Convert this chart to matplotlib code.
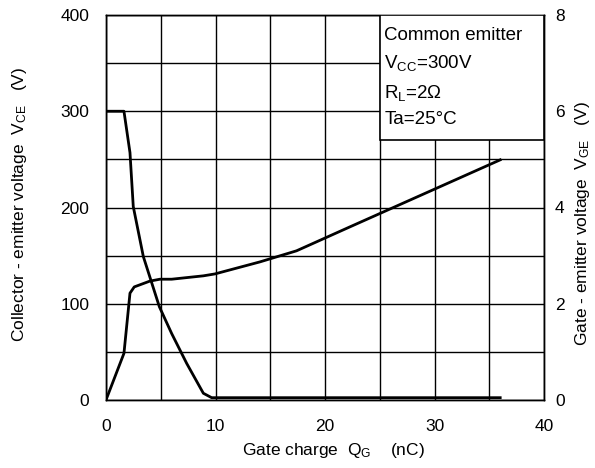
import matplotlib
matplotlib.use("Agg")
import matplotlib.pyplot as plt
from matplotlib.patches import Rectangle

plt.rcParams['font.family'] = ['Liberation Sans', 'DejaVu Sans']
plt.rcParams['mathtext.fontset'] = 'custom'
plt.rcParams['mathtext.rm'] = 'Liberation Sans'
plt.rcParams['mathtext.it'] = 'Liberation Sans:italic'
plt.rcParams['mathtext.default'] = 'rm'

# V_CE vs Q_G (left axis)
qg_vce = [0, 1.64, 2.19, 2.49, 3.41, 4.87, 6.0, 7.37, 8.89, 9.65, 36]
vce = [300, 300, 257, 201, 149, 97, 69, 38, 7, 2.4, 2.4]

# V_GE vs Q_G (right axis)
qg_vge = [0, 1.64, 2.19, 2.58, 4.0, 4.93, 6.0, 8.89, 9.95, 14.06, 17.4, 22.3, 36]
vge = [0, 0.97, 2.22, 2.35, 2.47, 2.51, 2.51, 2.58, 2.62, 2.87, 3.10, 3.6, 4.99]

x_ticks = [0, 10, 20, 30, 40]
vce_ticks = [0, 100, 200, 300, 400]
vge_ticks = [0, 2, 4, 6, 8]
conditions = ["Common emitter", "V$_{CC}$=300V", "R$_{L}$=2\u03a9", "Ta=25\u00b0C"]

fig = plt.figure(figsize=(5.95, 4.68), dpi=100)
ax = fig.add_axes([106/595, 68/468, 438/595, 385/468])
ax2 = ax.twinx()

ax.set_xlim(0, 40)
ax.set_ylim(0, 400)
ax2.set_ylim(0, 8)

ax.set_xticks(x_ticks)
ax.set_xticks([5, 15, 25, 35], minor=True)
ax.set_yticks(vce_ticks)
ax.set_yticks([50, 150, 250, 350], minor=True)
ax2.set_yticks(vge_ticks)

ax.grid(True, which='both', color='black', linewidth=1.0)
ax.set_axisbelow(True)

ax.tick_params(axis='both', which='both', length=0, labelsize=12.5)
ax.tick_params(axis='y', pad=12)
ax.tick_params(axis='x', pad=14)
ax2.tick_params(axis='y', length=0, labelsize=12.5, pad=8)

for a in (ax, ax2):
    for s in a.spines.values():
        s.set_color('black')
        s.set_linewidth(1.0)

ax.plot(qg_vce, vce, color='black', linewidth=2.0, zorder=3)
ax2.plot(qg_vge, vge, color='black', linewidth=2.0, zorder=3)

# condition box
ax2.add_patch(Rectangle((25, 270/50), 15, 130/50, facecolor='white',
                        edgecolor='black', linewidth=1.2, zorder=4))
ys = [379, 350, 319, 291]
for t, y in zip(conditions, ys):
    ax2.text(25.4, y/50, t, fontsize=13.5, va='center', ha='left', zorder=5)

fig.text(20/595, 1 - 204/468, "Collector - emitter voltage  V$_{CE}$   (V)",
         rotation=90, ha='center', va='center', fontsize=12.5)
fig.text(583/595, 1 - 223/468, "Gate - emitter voltage  V$_{GE}$   (V)",
         rotation=90, ha='center', va='center', fontsize=12.5)
fig.text(333/595, 1 - 451/468, "Gate charge  Q$_{G}$    (nC)",
         ha='center', va='center', fontsize=12.5)

fig.savefig("out.png", dpi=100)
